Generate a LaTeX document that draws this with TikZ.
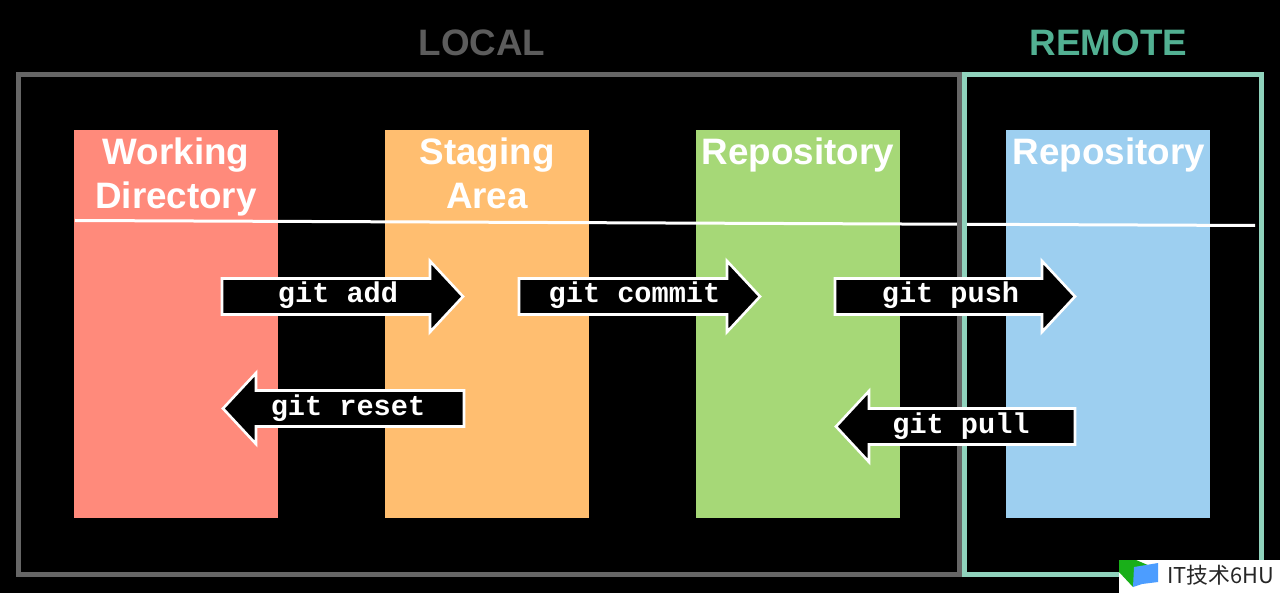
\documentclass[tikz,border=0pt]{standalone}
\usepackage{fontspec}
\setmainfont{Liberation Sans}
\setmonofont{Liberation Mono}
\newfontfamily\cjkwm{Noto Sans CJK SC}
\definecolor{wdred}{HTML}{FF8A7B}
\definecolor{saorange}{HTML}{FFBE70}
\definecolor{rpgreen}{HTML}{A6D877}
\definecolor{rpblue}{HTML}{9DCFF0}
\definecolor{localc}{HTML}{5C5C5C}
\definecolor{localf}{HTML}{666666}
\definecolor{remotec}{HTML}{52B092}
\definecolor{remotef}{HTML}{8FD2BC}
\tikzset{
  areabox/.style={anchor=north west,minimum width=204pt,minimum height=388pt,inner sep=0pt,outer sep=0pt,draw=none},
  areatitle/.style={text=white,font=\bfseries\fontsize{36.8}{44}\selectfont,align=center,inner sep=0pt},
  frametitle/.style={font=\bfseries\fontsize{36.8}{44}\selectfont,inner sep=0pt},
  gitarrow/.style={draw=white,fill=black,line width=2.6pt,line join=miter,miter limit=4},
  gitlabel/.style={text=white,font=\ttfamily\bfseries\fontsize{28.6}{30}\selectfont,inner sep=0pt,anchor=base},
}
\newcommand{\rarrowshape}[3]{% left, y, tip
  \draw[gitarrow] (#1,#2-18) -- (#3-33,#2-18) -- (#3-33,#2-35.5) -- (#3,#2) -- (#3-33,#2+35.5) -- (#3-33,#2+18) -- (#1,#2+18) -- cycle;}
\newcommand{\larrowshape}[3]{% right, y, tip
  \draw[gitarrow] (#1,#2-18) -- (#3+33,#2-18) -- (#3+33,#2-35.5) -- (#3,#2) -- (#3+33,#2+35.5) -- (#3+33,#2+18) -- (#1,#2+18) -- cycle;}
\begin{document}
\begin{tikzpicture}[x=1pt,y=-1pt]
\useasboundingbox (0,0) rectangle (1280,593);
\fill[black] (0,0) rectangle (1280,593);
% boxes
\node[areabox,fill=wdred] (wd) at (74,130) {};
\node[areabox,fill=saorange] (sa) at (385,130) {};
\node[areabox,fill=rpgreen] (lr) at (696,130) {};
\node[areabox,fill=rpblue] (rr) at (1006,130) {};
% titles
\node[areatitle,anchor=base] (wdt1) at (176,165) {Working};
\node[areatitle,anchor=base] (wdt2) at (176,209) {Directory};
\node[areatitle,anchor=base] (sat1) at (487,165) {Staging};
\node[areatitle,anchor=base] (sat2) at (487,209) {Area};
\node[areatitle,anchor=base] (lrt) at (798,165) {Repository};
\node[areatitle,anchor=base] (rrt) at (1109,165) {Repository};
% divider
\coordinate (divl) at (75,220.5);
\coordinate (divr) at (1255,225.5);
\draw[white,line width=3pt] (divl) -- (divr);
% frames
\draw[localf,line width=5pt] (18.5,74.3) rectangle (959.5,574.5);
\draw[remotef,line width=5pt] (964.6,74.3) rectangle (1261.5,574.5);
\node[frametitle,text=localc,anchor=base] (local) at (482,56) {LOCAL};
\node[frametitle,text=remotec,anchor=base] (remote) at (1108.5,56) {REMOTE};
% arrows
\rarrowshape{222}{296.5}{463}
\node[gitlabel] (add) at (338,303) {git add};
\rarrowshape{519}{296.5}{760}
\node[gitlabel] (commit) at (634.5,303) {git commit};
\rarrowshape{835}{296.5}{1075}
\node[gitlabel] (push) at (950.5,303) {git push};
\larrowshape{464}{408.5}{223}
\node[gitlabel] (reset) at (348,415.5) {git reset};
\larrowshape{1075}{426.5}{836}
\node[gitlabel] (pull) at (961,433.5) {git pull};
% watermark
\fill[white] (1119,560) rectangle (1280,593);
\fill[green!65!black!90!white] (1119,560) -- (1136,560) -- (1150,566) -- (1133,587) -- (1119,572) -- cycle;
\fill[blue!55!cyan!70!white] (1134,567) -- (1158,563) -- (1158,582) -- (1142,584) -- (1133,587) -- cycle;
\node[inner sep=0pt,anchor=base west,text=black!85,font=\cjkwm\fontsize{21.8}{24}\selectfont] (wm) at (1167,583) {IT技术6HU};
\end{tikzpicture}
\end{document}
